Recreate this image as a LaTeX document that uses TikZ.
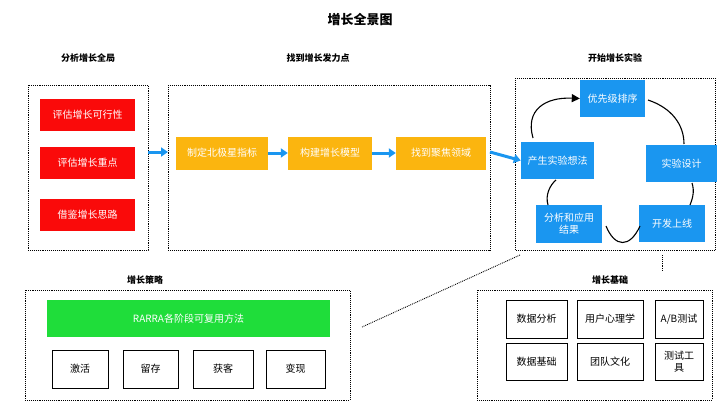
\documentclass[tikz,border=0pt]{standalone}
\usepackage{fontspec}
\setmainfont{Noto Sans CJK SC}
\usetikzlibrary{arrows.meta}
\definecolor{bl}{HTML}{1A96F0}
\definecolor{rd}{HTML}{FA0A0A}
\definecolor{og}{HTML}{FBB50F}
\definecolor{gn}{HTML}{1FDD3A}
\begin{document}
\begin{tikzpicture}[x=1pt,y=-1pt,
 frame/.style={draw,densely dotted,line width=0.9pt},
 lbl/.style={font=\fontsize{9}{11}\selectfont\bfseries},
 redb/.style={fill=rd,text=white,font=\fontsize{10}{12}\selectfont},
 orb/.style={fill=og,text=white,font=\fontsize{10}{12}\selectfont},
 blb/.style={fill=bl,text=white,font=\fontsize{10}{12}\selectfont,align=center},
 whb/.style={draw,fill=white,font=\fontsize{10}{12}\selectfont,align=center},
 bar/.style={-{Triangle[length=7pt,width=9pt]},draw=bl,line width=3pt},
 cyc/.style={line width=1.1pt}]
\useasboundingbox (0,0) rectangle (720,404);
\node[font=\fontsize{13}{15}\selectfont\bfseries] (t) at (360,20) {增长全景图};
\node[lbl] (l1) at (88,58) {分析增长全局};
\node[lbl] (l2) at (318,58) {找到增长发力点};
\node[lbl] (l3) at (615,58) {开始增长实验};
\node[lbl] (l4) at (145,280) {增长策略};
\node[lbl] (l5) at (610,280) {增长基础};
% frames
\draw[frame] (28,85) rectangle (148,250);
\draw[frame] (168,85) rectangle (490,250);
\draw[frame] (515,78) rectangle (715,250);
\draw[frame] (25,290) rectangle (350,400);
\draw[frame] (477,290) rectangle (712,400);
\coordinate (f1r) at (148,152);
\coordinate (f2l) at (168,152);
\coordinate (f2r) at (490,152);
% red
\node[redb,minimum width=95pt,minimum height=32pt] (r1) at (87.5,115) {评估增长可行性};
\node[redb,minimum width=95pt,minimum height=32pt] (r2) at (87.5,163) {评估增长重点};
\node[redb,minimum width=95pt,minimum height=32pt] (r3) at (87.5,215) {借鉴增长思路};
% orange
\node[orb,minimum width=92pt,minimum height=33pt] (o1) at (222,153) {制定北极星指标};
\node[orb,minimum width=84pt,minimum height=33pt] (o2) at (330,153) {构建增长模型};
\node[orb,minimum width=90pt,minimum height=33pt] (o3) at (441,153) {找到聚焦领域};
% cycle
\node[blb,minimum width=65pt,minimum height=37pt] (c1) at (612.5,98.5) {优先级排序};
\node[blb,minimum width=71pt,minimum height=37pt] (c2) at (681.5,163.5) {实验设计};
\node[blb,minimum width=66pt,minimum height=37pt] (c3) at (672,223.5) {开发上线};
\node[blb,minimum width=66pt,minimum height=38pt] (c4) at (569,224) {分析和应用\\结果};
\node[blb,minimum width=73pt,minimum height=37pt] (c5) at (557.5,160.5) {产生实验想法};
\draw[bar] (f1r) -- (f2l);
\draw[bar] (o1) -- (o2);
\draw[bar] (o2) -- (o3);
\draw[bar] (f2r) -- (c5.west);
\draw[cyc,-{Triangle[length=8pt,width=8pt]}] (533,138) .. controls (525,110) and (545,97) .. (c1.west);
\draw[cyc] (648,100) .. controls (672,108) and (684,125) .. (684,144);
\draw[cyc] (692,183) .. controls (695,192) and (692,200) .. (690,205);
\draw[cyc] (640,226) .. controls (630,248) and (615,248) .. (606,226);
\draw[cyc] (548,205) .. controls (545,195) and (550,185) .. (556,180);
% dotted connectors
\coordinate (d1) at (520,255);
\coordinate (d2) at (362,327);
\coordinate (d3) at (662,255);
\coordinate (d4) at (662,272);
\draw[densely dotted,line width=0.9pt] (d1) -- (d2);
\draw[densely dotted,line width=0.9pt] (d3) -- (d4);
% strategy
\node[fill=gn,text=white,minimum width=283pt,minimum height=37pt,font=\fontsize{10}{12}\selectfont] (g) at (188.5,318.5) {RARRA各阶段可复用方法};
\node[whb,minimum width=56pt,minimum height=38pt] (s1) at (80,369) {激活};
\node[whb,minimum width=55pt,minimum height=38pt] (s2) at (150.5,369) {留存};
\node[whb,minimum width=60pt,minimum height=38pt] (s3) at (223,369) {获客};
\node[whb,minimum width=59pt,minimum height=38pt] (s4) at (295.5,369) {变现};
% foundations
\node[whb,minimum width=61pt,minimum height=38pt] (b1) at (536.5,319) {数据分析};
\node[whb,minimum width=66pt,minimum height=38pt] (b2) at (610,319) {用户心理学};
\node[whb,minimum width=48pt,minimum height=38pt] (b3) at (679,319) {A/B测试};
\node[whb,minimum width=61pt,minimum height=37pt] (b4) at (536.5,361.5) {数据基础};
\node[whb,minimum width=66pt,minimum height=37pt] (b5) at (610,361.5) {团队文化};
\node[whb,minimum width=48pt,minimum height=37pt,text width=36pt,inner sep=1pt] (b6) at (679,361.5) {测试工\\具};
\end{tikzpicture}
\end{document}
